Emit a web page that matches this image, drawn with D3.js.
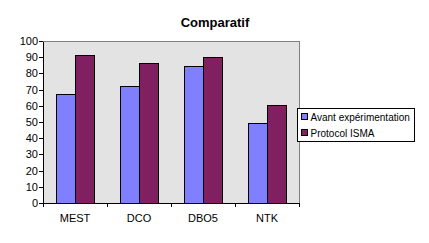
<!DOCTYPE html>
<html>
<head>
<meta charset="utf-8">
<script src="https://cdn.jsdelivr.net/npm/d3@7"></script>
<style>
  body { margin: 0; background: #fff; }
  text { font-family: Arial, "Liberation Sans", sans-serif; }
</style>
</head>
<body>
<div class="canvas1"></div>
<script>
// data
const categories = ["MEST", "DCO", "DBO5", "NTK"];
const seriesNames = ["Avant expérimentation", "Protocol ISMA"];
const avant = [67, 72, 84, 49];
const protocol = [91, 86, 90, 60];
const yTicks = [0, 10, 20, 30, 40, 50, 60, 70, 80, 90, 100];

const colors = ["#8080FF", "#802060"];

const margin = { top: 41, right: 130, bottom: 40, left: 43 };
const width = 299 - margin.left;
const height = 203 - margin.top;

const svg = d3.select(".canvas1").append("svg")
    .attr("width", 429)
    .attr("height", 243);

const g = svg.append("g")
    .attr("transform", "translate(" + margin.left + "," + margin.top + ")");

// scales
const x = d3.scaleBand().domain(categories).range([0, width]).paddingInner(0).paddingOuter(0);
const x1 = d3.scaleBand().domain([0, 1]).range([0, 38]);
const y = d3.scaleLinear().domain([0, 100]).range([height, 0]);

// plot background
g.append("rect")
    .attr("x", 0).attr("y", 0)
    .attr("width", width).attr("height", height)
    .attr("fill", "#E3E3E3")
    .attr("stroke", "#808080")
    .attr("shape-rendering", "crispEdges");

// bars
const data = categories.map((c, i) => ({ cat: c, vals: [avant[i], protocol[i]] }));
const groups = g.selectAll(".grp")
    .data(data)
  .enter().append("g")
    .attr("transform", d => "translate(" + (x(d.cat) + (x.bandwidth() - 38) / 2) + ",0)");

groups.selectAll("rect")
    .data(d => d.vals)
  .enter().append("rect")
    .attr("x", (d, i) => x1(i))
    .attr("y", d => y(d))
    .attr("width", x1.bandwidth())
    .attr("height", d => height - y(d))
    .attr("fill", (d, i) => colors[i])
    .attr("stroke", "#000")
    .attr("stroke-width", 1)
    .attr("shape-rendering", "crispEdges");

// y axis
const yAxis = g.append("g")
    .call(d3.axisLeft(y).tickValues(yTicks).tickSize(4).tickSizeOuter(0));
yAxis.select(".domain").attr("stroke", "#000").attr("shape-rendering", "crispEdges");
yAxis.selectAll(".tick line").attr("stroke", "#000").attr("shape-rendering", "crispEdges");
yAxis.selectAll("text").attr("font-size", "11px").attr("fill", "#000").attr("x", -5);

// x axis: ticks between categories
const xAxis = g.append("g")
    .attr("transform", "translate(0," + height + ")");
xAxis.append("line")
    .attr("x1", 0).attr("x2", width)
    .attr("stroke", "#000").attr("shape-rendering", "crispEdges");
xAxis.selectAll(".sep")
    .data(categories.concat(["end"]))
  .enter().append("line")
    .attr("x1", (d, i) => i * x.bandwidth())
    .attr("x2", (d, i) => i * x.bandwidth())
    .attr("y1", 0).attr("y2", 4)
    .attr("stroke", "#000").attr("shape-rendering", "crispEdges");
xAxis.selectAll(".lbl")
    .data(categories)
  .enter().append("text")
    .attr("x", d => x(d) + x.bandwidth() / 2)
    .attr("y", 19)
    .attr("text-anchor", "middle")
    .attr("font-size", "11px")
    .text(d => d);

// title
svg.append("text")
    .attr("x", 215)
    .attr("y", 27)
    .attr("text-anchor", "middle")
    .attr("font-size", "13px")
    .attr("font-weight", "bold")
    .text("Comparatif");

// legend
const legend = svg.append("g").attr("transform", "translate(297.5,108.5)");
legend.append("rect")
    .attr("width", 117).attr("height", 33)
    .attr("fill", "#fff").attr("stroke", "#000");
seriesNames.forEach((name, i) => {
  legend.append("rect")
      .attr("x", 4).attr("y", 5 + i * 16)
      .attr("width", 6).attr("height", 6)
      .attr("fill", colors[i]).attr("stroke", "#000");
  legend.append("text")
      .attr("x", 13).attr("y", 12.5 + i * 16)
      .attr("font-size", "10px")
      .text(name);
});
</script>
</body>
</html>
